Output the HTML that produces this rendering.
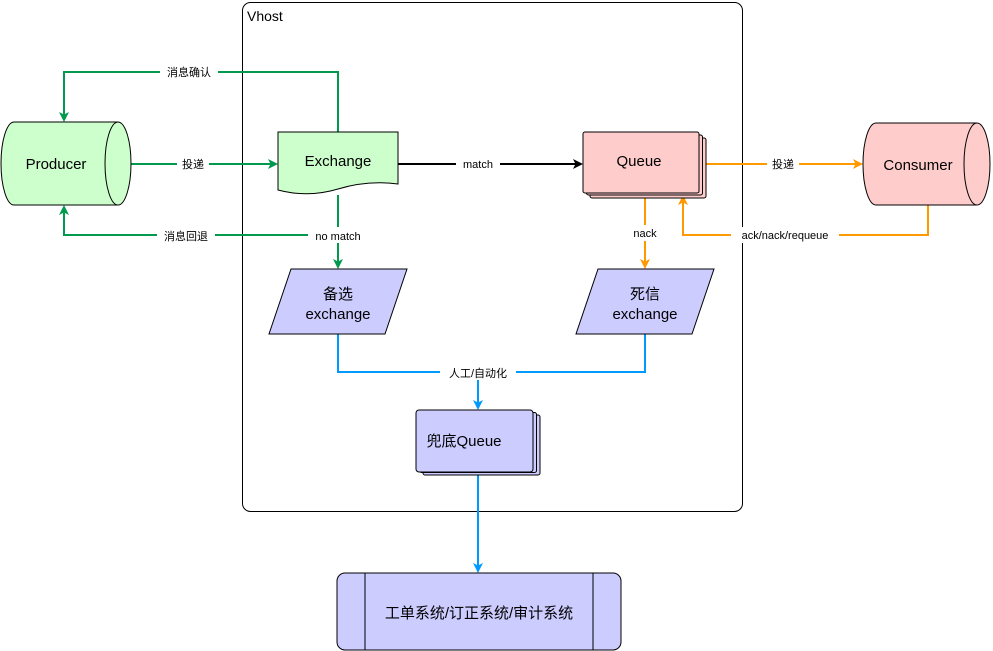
<!DOCTYPE html>
<html><head><meta charset="utf-8"><style>
html,body{margin:0;padding:0;background:#fff;}
svg{display:block;font-family:"Liberation Sans","Noto Sans CJK SC",sans-serif;}
</style></head><body>
<svg width="993" height="651" viewBox="0 0 993 651" xmlns="http://www.w3.org/2000/svg">
<defs>
<marker id="ag" markerWidth="10" markerHeight="10" refX="8" refY="5" orient="auto" markerUnits="userSpaceOnUse"><path d="M0,0 L10,5 L0,10 L2.5,5 Z" fill="#00994D"/></marker>
<marker id="ak" markerWidth="10" markerHeight="10" refX="8" refY="5" orient="auto" markerUnits="userSpaceOnUse"><path d="M0,0 L10,5 L0,10 L2.5,5 Z" fill="#000"/></marker>
<marker id="ao" markerWidth="10" markerHeight="10" refX="8" refY="5" orient="auto" markerUnits="userSpaceOnUse"><path d="M0,0 L10,5 L0,10 L2.5,5 Z" fill="#FF9900"/></marker>
<marker id="ab" markerWidth="10" markerHeight="10" refX="8" refY="5" orient="auto" markerUnits="userSpaceOnUse"><path d="M0,0 L10,5 L0,10 L2.5,5 Z" fill="#0099FF"/></marker>
</defs>
<!-- Vhost -->
<rect x="242.5" y="2.5" width="500" height="509" rx="8" fill="#fff" stroke="#000"/>
<text x="247" y="21" font-size="14">Vhost</text>

<!-- edges green -->
<g fill="none" stroke="#00994D" stroke-width="2">
<path d="M130,164 L276,164" marker-end="url(#ag)"/>
<path d="M338,132 L338,72 L64,72 L64,120" marker-end="url(#ag)"/>
<path d="M338,195 L338,235 L64,235 L64,207" marker-end="url(#ag)"/>
<path d="M338,235 L338,267" marker-end="url(#ag)"/>
</g>
<path d="M398,164 L581,164" stroke="#000" stroke-width="2" fill="none" marker-end="url(#ak)"/>
<g fill="none" stroke="#FF9900" stroke-width="2">
<path d="M699,164 L861,164" marker-end="url(#ao)"/>
<path d="M645,193 L645,267" marker-end="url(#ao)"/>
<path d="M928,205 L928,235 L683,235 L683,197" marker-end="url(#ao)"/>
</g>
<g fill="none" stroke="#0099FF" stroke-width="2">
<path d="M338,334 L338,372 L645,372 L645,334"/>
<path d="M478,372 L478,408" marker-end="url(#ab)"/>
<path d="M478,472 L478,571" marker-end="url(#ab)"/>
</g>

<!-- Producer -->
<path d="M14,122 L118,122 A13,41.5 0 0 1 118,205 L14,205 A13,41.5 0 0 1 14,122 Z" fill="#CCFFCC" stroke="#000"/>
<path d="M118,122 A13,41.5 0 0 0 118,205" fill="none" stroke="#000"/>
<text x="56" y="169" font-size="15" text-anchor="middle">Producer</text>

<!-- Exchange -->
<path d="M278,132 L398,132 L398,184 Q368,180 338,189 Q308,198 278,190 Z" fill="#CCFFCC" stroke="#000"/>
<text x="338" y="166" font-size="15" text-anchor="middle">Exchange</text>

<!-- Queue -->
<rect x="590" y="138" width="116" height="60" rx="2" fill="#FFCCCC" stroke="#000"/>
<rect x="586.5" y="135" width="116" height="60" rx="2" fill="#FFCCCC" stroke="#000"/>
<rect x="583" y="132" width="116" height="61" rx="2" fill="#FFCCCC" stroke="#000"/>
<text x="639" y="166" font-size="15" text-anchor="middle">Queue</text>

<!-- Consumer -->
<path d="M876,123 L977,123 A13,41 0 0 1 977,205 L876,205 A13,41 0 0 1 876,123 Z" fill="#FFCCCC" stroke="#000"/>
<path d="M977,123 A13,41 0 0 0 977,205" fill="none" stroke="#000"/>
<text x="918" y="170" font-size="15" text-anchor="middle">Consumer</text>

<!-- 备选 exchange -->
<path d="M291,269 L407,269 L385,334 L269,334 Z" fill="#CCCCFF" stroke="#000"/>
<text x="338" y="299" font-size="15" text-anchor="middle">备选</text>
<text x="338" y="319" font-size="15" text-anchor="middle">exchange</text>

<!-- 死信 exchange -->
<path d="M598,269 L714,269 L692,334 L576,334 Z" fill="#CCCCFF" stroke="#000"/>
<text x="645" y="299" font-size="15" text-anchor="middle">死信</text>
<text x="645" y="319" font-size="15" text-anchor="middle">exchange</text>

<!-- 兜底Queue -->
<rect x="423" y="415" width="117" height="60" rx="2" fill="#CCCCFF" stroke="#000"/>
<rect x="419.5" y="412.5" width="117" height="60" rx="2" fill="#CCCCFF" stroke="#000"/>
<rect x="416" y="410" width="117" height="62" rx="3" fill="#CCCCFF" stroke="#000"/>
<text x="464" y="446" font-size="15" text-anchor="middle">兜底Queue</text>

<!-- bottom process -->
<rect x="337" y="573" width="284" height="77" rx="8" fill="#CCCCFF" stroke="#000"/>
<line x1="365" y1="573" x2="365" y2="650" stroke="#000"/>
<line x1="593" y1="573" x2="593" y2="650" stroke="#000"/>
<text x="479" y="618" font-size="15" text-anchor="middle">工单系统/订正系统/审计系统</text>

<!-- labels -->
<g font-size="11" text-anchor="middle">
<rect x="160" y="64" width="58" height="16" fill="#fff"/><text x="189" y="76">消息确认</text>
<rect x="177" y="156" width="32" height="16" fill="#fff"/><text x="193" y="168">投递</text>
<rect x="157" y="227" width="58" height="16" fill="#fff"/><text x="186" y="240">消息回退</text>
<rect x="308" y="227" width="60" height="16" fill="#fff"/><text x="338" y="240">no match</text>
<rect x="456" y="156" width="44" height="16" fill="#fff"/><text x="478" y="168">match</text>
<rect x="767" y="156" width="32" height="16" fill="#fff"/><text x="783" y="168">投递</text>
<rect x="628" y="225" width="34" height="16" fill="#fff"/><text x="645" y="237">nack</text>
<rect x="731" y="227" width="108" height="16" fill="#fff"/><text x="785" y="239">ack/nack/requeue</text>
<rect x="440" y="364" width="76" height="16" fill="#fff"/><text x="478" y="377">人工/自动化</text>
</g>
</svg>
</body></html>
